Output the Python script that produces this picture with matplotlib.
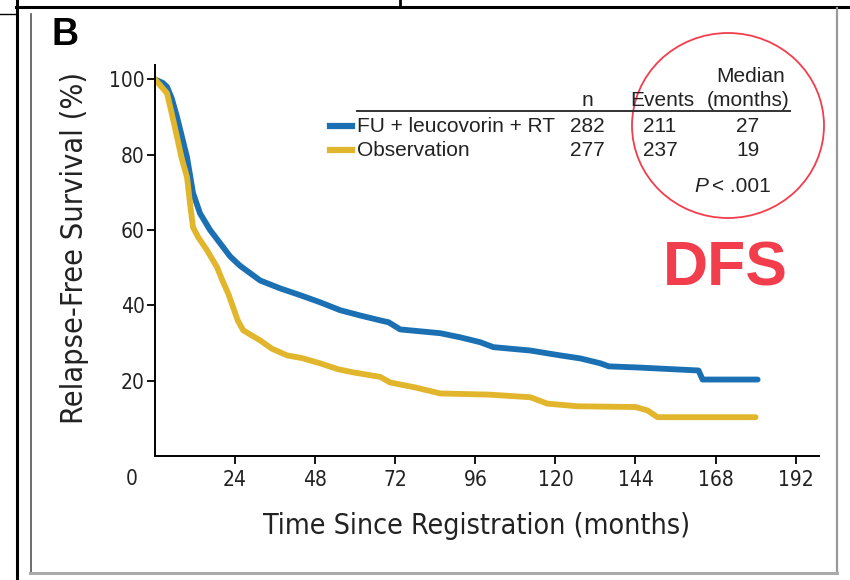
import matplotlib.pyplot as plt
from matplotlib.lines import Line2D
from matplotlib.patches import Ellipse

fu_months = [0, 2.4, 3.6, 5, 6.6, 8, 9.6, 11.4, 13.5, 16.5, 19.5, 22.5, 25.5, 31.5, 37.5,
             43.5, 49.5, 55.5, 61.5, 67.5, 70, 73.5, 85.5, 91.5, 97.5, 101.4, 112.5,
             121.5, 127.5, 133.5, 136, 144.6, 151.5, 162.9, 164.1, 180.6]
fu_surv = [100, 99, 98, 95, 90, 85, 79.3, 69.8, 64.4, 60, 56.5, 53, 50.5, 46.6, 44.5,
           42.7, 40.8, 38.7, 37.3, 36, 35.5, 33.6, 32.6, 31.5, 30.2, 28.9, 28,
           26.7, 25.9, 24.6, 23.8, 23.5, 23.2, 22.7, 20.3, 20.3]

obs_months = [0, 3.6, 5, 6.6, 8, 9.6, 10.5, 11.4, 13, 15.6, 18.6, 20, 22, 23.4, 24.8,
              26.4, 29, 31.5, 35, 39.6, 44, 49.5, 55, 59.4, 67.5, 70.5, 78, 85.5, 100,
              112.5, 117.6, 126.6, 144, 147.6, 150.6, 180]
obs_surv = [100, 96.3, 91, 84.7, 79, 74, 67, 60.7, 58, 54.6, 50.1, 47, 43, 39.5, 36,
            33.4, 32, 30.7, 28.5, 26.7, 26, 24.6, 23, 22.2, 21, 19.5, 18.2, 16.6, 16.3,
            15.6, 13.9, 13.2, 13, 12.1, 10.3, 10.3]

groups = ['FU + leucovorin + RT', 'Observation']
n_pts = ['282', '277']
events = ['211', '237']
medians = ['27', '19']

xticks = [24, 48, 72, 96, 120, 144, 168, 192]
yticks = [20, 40, 60, 80, 100]

BLUE = '#1a70b3'
GOLD = '#e2b62c'
RED = '#f23d4d'
SANS = ['Liberation Sans', 'DejaVu Sans']
cond = dict(family='DejaVu Sans', fontstretch='condensed', color='#222222')

W, H = 850, 580
fig = plt.figure(figsize=(8.5, 5.8), dpi=100)


def fx(x):
    return x / W


def fy(y):
    return 1 - y / H


ax = fig.add_axes([fx(155), fy(456), fx(819) - fx(155), fy(65) - fy(456)])
ax.plot(fu_months, fu_surv, color=BLUE, lw=4.2, solid_capstyle='round', solid_joinstyle='round')
ax.plot(obs_months, obs_surv, color=GOLD, lw=4.2, solid_capstyle='round', solid_joinstyle='round')

ax.set_xlim(0, 199)
ax.set_ylim(0, 103.8)
ax.set_xticks(xticks)
ax.set_yticks(yticks)
for s in ['top', 'right']:
    ax.spines[s].set_visible(False)
for s in ['left', 'bottom']:
    ax.spines[s].set_linewidth(1.4)
ax.tick_params(direction='out', length=6, width=1.3, labelsize=15)
ax.tick_params(axis='y', pad=1.5)
ax.tick_params(axis='x', pad=4)
for lab in ax.get_xticklabels() + ax.get_yticklabels():
    lab.set_family('DejaVu Sans')
    lab.set_fontstretch('condensed')
    lab.set_color('#222222')
# lone zero at the origin corner
ax.text(-7, -6.2, '0', ha='center', va='center', fontsize=15, **cond)

ax.set_xlabel('Time Since Registration (months)', fontsize=20.5, **cond)
ax.set_ylabel('Relapse-Free Survival (%)', fontsize=22, **cond)
ax.xaxis.set_label_coords(0.485, -0.142)
ax.yaxis.set_label_coords(-0.1, 0.532)

# panel letter
fig.text(fx(52), fy(45), 'B', fontsize=27, fontweight='bold', family=SANS, va='baseline', ha='left')

# legend table
tk = dict(fontsize=15, family=SANS, color='#222222', va='center')
fig.text(fx(751), fy(76), 'Median', ha='center', **tk)
fig.text(fx(587), fy(101), 'n', ha='center', **tk)
fig.text(fx(662), fy(101), 'Events', ha='center', **tk)
fig.text(fx(748), fy(101), '(months)', ha='center', **tk)
fig.add_artist(Line2D([fx(357), fx(790)], [fy(111), fy(111)], color='#333333', lw=1.4))
for i, (g, col) in enumerate(zip(groups, [BLUE, GOLD])):
    yy = 127 + 24 * i
    fig.add_artist(Line2D([fx(330), fx(352)], [fy(yy - 1), fy(yy - 1)], color=col, lw=4.5))
    fig.text(fx(357), fy(yy), g, ha='left', **tk)
    fig.text(fx(587), fy(yy), n_pts[i], ha='center', **tk)
    fig.text(fx(660), fy(yy), events[i], ha='center', **tk)
    fig.text(fx(748), fy(yy), medians[i], ha='center', **tk)
fig.text(fx(708), fy(186), 'P', ha='right', fontstyle='italic', **tk)
fig.text(fx(712), fy(186), '< .001', ha='left', **tk)

# red annotation
fig.add_artist(Ellipse((fx(728), fy(125.5)), 192 / W, 185 / H, transform=fig.transFigure,
                       fill=False, edgecolor=RED, lw=1.3))
fig.text(fx(725), fy(269), 'DFS', fontsize=45, fontweight='bold', family=SANS, color=RED,
         ha='center', va='center')

# page frame lines
fig.add_artist(Line2D([fx(16.5), fx(16.5)], [0, 1], color='black', lw=2.2))
fig.add_artist(Line2D([fx(16), 1], [fy(6.5), fy(6.5)], color='black', lw=2.2))
fig.add_artist(Line2D([0, fx(16)], [fy(14), fy(14)], color='black', lw=1.0))
fig.add_artist(Line2D([fx(400), fx(400)], [1, fy(6)], color='black', lw=2))
fig.add_artist(Line2D([fx(30.5), fx(30.5)], [fy(14), fy(573)], color='#555555', lw=1.2))
fig.add_artist(Line2D([fx(837), fx(837)], [fy(8), fy(573)], color='#999999', lw=1.6))
fig.add_artist(Line2D([fx(30), fx(837)], [fy(573), fy(573)], color='#aaaaaa', lw=2.2))

fig.savefig('out.png', dpi=100)
